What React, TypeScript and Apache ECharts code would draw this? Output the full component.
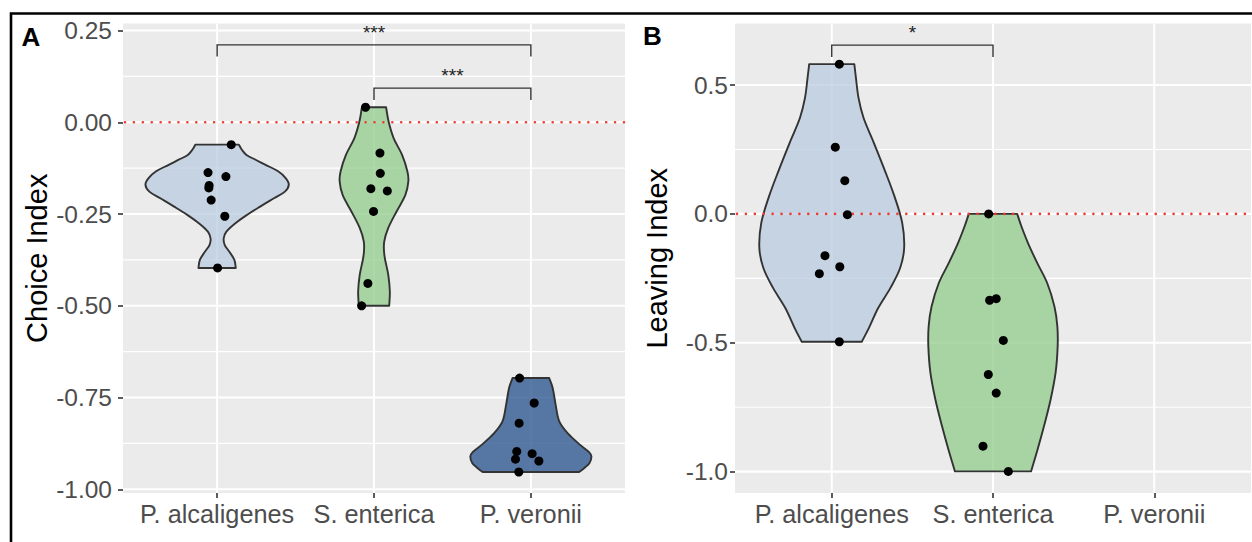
import React, { useEffect, useRef } from 'react';
import * as echarts from 'echarts';

// ---------- shared ----------
const categories = ['P. alcaligenes', 'S. enterica', 'P. veronii'];
const categoryPositions = [0, 1, 2];
const xRange = [-0.6, 2.6];
const zeroLineValue = 0;

// ---------- Panel A : Choice Index ----------
const choiceTicks = [-1.0, -0.75, -0.5, -0.25, 0, 0.25];
const choiceTickLabels = ['-1.00', '-0.75', '-0.50', '-0.25', '0.00', '0.25'];
const choiceMinorTicks = [-0.875, -0.625, -0.375, -0.125, 0.125];
const choiceRange = [-1.0102, 0.2692];

const choiceAlcValues = [-0.061, -0.137, -0.148, -0.172, -0.179, -0.212, -0.256, -0.397];
const choiceAlcJitter = [0.09, -0.058, 0.056, -0.051, -0.053, -0.038, 0.049, 0.003];
const choiceEntValues = [0.041, -0.084, -0.139, -0.181, -0.187, -0.243, -0.439, -0.5];
const choiceEntJitter = [-0.054, 0.038, 0.04, -0.02, 0.085, -0.003, -0.039, -0.079];
const choiceVerValues = [-0.697, -0.765, -0.82, -0.897, -0.903, -0.918, -0.923, -0.953];
const choiceVerJitter = [-0.072, 0.021, -0.075, -0.09, 0.008, -0.098, 0.051, -0.077];

// violin outlines: value levels and half-widths (category units)
const choiceAlcViolinY = [-0.061, -0.075, -0.089, -0.102, -0.116, -0.134, -0.152, -0.17, -0.189, -0.207, -0.229, -0.252, -0.275, -0.298, -0.316, -0.334, -0.352, -0.375, -0.397];
const choiceAlcViolinW = [0.139, 0.158, 0.187, 0.245, 0.309, 0.391, 0.437, 0.457, 0.432, 0.362, 0.277, 0.192, 0.117, 0.059, 0.042, 0.048, 0.077, 0.11, 0.119];
const choiceEntViolinY = [0.041, 0.002, -0.043, -0.089, -0.134, -0.161, -0.198, -0.243, -0.288, -0.325, -0.361, -0.416, -0.461, -0.5];
const choiceEntViolinW = [0.077, 0.093, 0.125, 0.179, 0.213, 0.219, 0.2, 0.144, 0.091, 0.065, 0.066, 0.091, 0.101, 0.097];
const choiceVerViolinY = [-0.697, -0.724, -0.77, -0.815, -0.847, -0.879, -0.899, -0.911, -0.929, -0.942, -0.953];
const choiceVerViolinW = [0.117, 0.139, 0.158, 0.181, 0.234, 0.314, 0.371, 0.386, 0.373, 0.341, 0.307];

const choiceBracketFrom = [0, 1];
const choiceBracketTo = [2, 2];
const choiceBracketY = [0.211, 0.093];
const choiceBracketTipY = [0.179, 0.061];
const choiceBracketLabels = ['***', '***'];

// ---------- Panel B : Leaving Index ----------
const leaveTicks = [-1.0, -0.5, 0, 0.5];
const leaveTickLabels = ['-1.0', '-0.5', '0.0', '0.5'];
const leaveMinorTicks = [-0.75, -0.25, 0.25];
const leaveRange = [-1.0828, 0.7388];

const leaveAlcValues = [0.581, 0.259, 0.129, -0.003, -0.162, -0.205, -0.232, -0.496];
const leaveAlcJitter = [0.047, 0.022, 0.081, 0.097, -0.042, 0.05, -0.077, 0.047];
const leaveEntValues = [0.0, -0.329, -0.335, -0.491, -0.623, -0.695, -0.901, -0.999];
const leaveEntJitter = [-0.027, 0.02, -0.021, 0.064, -0.029, 0.02, -0.062, 0.095];

const leaveAlcViolinY = [0.581, 0.528, 0.45, 0.373, 0.282, 0.172, 0.068, -0.035, -0.132, -0.21, -0.287, -0.365, -0.443, -0.496];
const leaveAlcViolinW = [0.14, 0.15, 0.166, 0.197, 0.257, 0.327, 0.389, 0.437, 0.449, 0.424, 0.364, 0.288, 0.23, 0.186];
const leaveEntViolinY = [0.0, -0.048, -0.113, -0.19, -0.268, -0.359, -0.436, -0.514, -0.617, -0.721, -0.824, -0.915, -0.999];
const leaveEntViolinW = [0.15, 0.176, 0.217, 0.274, 0.336, 0.381, 0.399, 0.401, 0.388, 0.357, 0.316, 0.276, 0.236];

const leaveBracketFrom = [0];
const leaveBracketTo = [1];
const leaveBracketY = [0.655];
const leaveBracketTipY = [0.609];
const leaveBracketLabels = ['*'];

// ---------- styles ----------
const FONT = '"Liberation Sans", Arial, Helvetica, sans-serif';
const violinFills = ['rgba(184,203,223,0.75)', 'rgba(146,204,139,0.75)', 'rgba(40,82,142,0.77)'];
const OUTLINE = '#333333';
const ZERO_RED = '#F03A30';
const TICK_TEXT = '#4D4D4D';
const Y_TICK_FONT = 24.5;
const X_TICK_FONT = 25.3;

type Violin = { cat: number; ys: number[]; ws: number[]; fill: string };

function hGridSeries(gridIndex: number, values: number[], width: number, z: number) {
  return {
    type: 'custom',
    xAxisIndex: gridIndex,
    yAxisIndex: gridIndex,
    z,
    silent: true,
    data: values.map((v) => [0, v]),
    renderItem: (params: any, api: any) => {
      const p1 = api.coord([xRange[0], api.value(1)]);
      const p2 = api.coord([xRange[1], api.value(1)]);
      return {
        type: 'line',
        shape: { x1: p1[0], y1: p1[1], x2: p2[0], y2: p2[1] },
        style: { stroke: '#FFFFFF', lineWidth: width },
      };
    },
  };
}

function vGridSeries(gridIndex: number, range: number[]) {
  return {
    type: 'custom',
    xAxisIndex: gridIndex,
    yAxisIndex: gridIndex,
    z: 1,
    silent: true,
    data: categoryPositions.map((c) => [c, 0]),
    renderItem: (params: any, api: any) => {
      const p1 = api.coord([api.value(0), range[0]]);
      const p2 = api.coord([api.value(0), range[1]]);
      return {
        type: 'line',
        shape: { x1: p1[0], y1: p1[1], x2: p2[0], y2: p2[1] },
        style: { stroke: '#FFFFFF', lineWidth: 2 },
      };
    },
  };
}

function violinSeries(gridIndex: number, violins: Violin[]) {
  return {
    type: 'custom',
    xAxisIndex: gridIndex,
    yAxisIndex: gridIndex,
    z: 2,
    silent: true,
    data: violins.map((v) => [v.cat, v.ys[0]]),
    renderItem: (params: any, api: any) => {
      const v = violins[params.dataIndex];
      const right = v.ys.map((y, k) => api.coord([v.cat + v.ws[k], y]));
      const left = v.ys.map((y, k) => api.coord([v.cat - v.ws[k], y])).reverse();
      const pts = [right[0], ...right, right[right.length - 1], left[0], ...left, left[left.length - 1]];
      return {
        type: 'polygon',
        shape: { points: pts, smooth: 0.35 },
        style: { fill: v.fill, stroke: OUTLINE, lineWidth: 1.9, lineJoin: 'round' },
      };
    },
  };
}

function pointSeries(gridIndex: number, cat: number, values: number[], jitter: number[]) {
  return {
    type: 'scatter',
    xAxisIndex: gridIndex,
    yAxisIndex: gridIndex,
    z: 4,
    silent: true,
    symbol: 'circle',
    symbolSize: 9,
    itemStyle: { color: '#000000', opacity: 1 },
    data: values.map((y, k) => [cat + jitter[k], y]),
  };
}

function zeroLineSeries(gridIndex: number) {
  return {
    type: 'custom',
    xAxisIndex: gridIndex,
    yAxisIndex: gridIndex,
    z: 3,
    silent: true,
    data: [[0, zeroLineValue]],
    renderItem: (params: any, api: any) => {
      const p1 = api.coord([xRange[0], api.value(1)]);
      const p2 = api.coord([xRange[1], api.value(1)]);
      return {
        type: 'line',
        shape: { x1: p1[0] + 2, y1: p1[1], x2: p2[0], y2: p2[1] },
        style: { stroke: ZERO_RED, lineWidth: 2.6, lineDash: [0.01, 8.9], lineCap: 'round' },
      };
    },
  };
}

function bracketSeries(gridIndex: number, from: number[], to: number[], ys: number[], tips: number[], labels: string[]) {
  return {
    type: 'custom',
    xAxisIndex: gridIndex,
    yAxisIndex: gridIndex,
    z: 5,
    silent: true,
    data: from.map((f, i) => [f, ys[i]]),
    renderItem: (params: any, api: any) => {
      const i = params.dataIndex;
      const a = api.coord([from[i], tips[i]]);
      const b = api.coord([from[i], ys[i]]);
      const c = api.coord([to[i], ys[i]]);
      const d = api.coord([to[i], tips[i]]);
      return {
        type: 'group',
        children: [
          {
            type: 'polyline',
            shape: { points: [a, b, c, d] },
            style: { stroke: OUTLINE, lineWidth: 1.4, fill: null },
          },
          {
            type: 'text',
            x: (b[0] + c[0]) / 2,
            y: b[1] - 3,
            style: {
              text: labels[i],
              fontSize: 19,
              fontFamily: FONT,
              fill: '#222222',
              align: 'center',
              verticalAlign: 'bottom',
            },
          },
        ],
      };
    },
  };
}

function yAxisDef(gridIndex: number, range: number[], ticks: number[], labels: string[], name: string, nameGap: number, margin: number) {
  return {
    type: 'value',
    gridIndex,
    min: range[0],
    max: range[1],
    axisLine: { show: false, onZero: false },
    axisTick: { show: true, length: 5, lineStyle: { color: '#333333', width: 1.6 }, customValues: ticks },
    axisLabel: {
      show: true,
      customValues: ticks,
      formatter: (v: number) => {
        const idx = ticks.findIndex((t) => Math.abs(t - v) < 1e-9);
        return idx >= 0 ? labels[idx] : '';
      },
      fontSize: Y_TICK_FONT,
      color: TICK_TEXT,
      fontFamily: FONT,
      margin,
    },
    splitLine: { show: false },
    name,
    nameLocation: 'middle',
    nameGap,
    nameTextStyle: { fontSize: 29, color: '#000000', fontFamily: FONT },
  };
}

function xAxisDef(gridIndex: number) {
  return {
    type: 'value',
    gridIndex,
    min: xRange[0],
    max: xRange[1],
    axisLine: { show: false, onZero: false },
    axisTick: { show: true, length: 5, lineStyle: { color: '#333333', width: 1.6 }, customValues: categoryPositions },
    axisLabel: {
      show: true,
      customValues: categoryPositions,
      formatter: (v: number) => categories[Math.round(v)] ?? '',
      fontSize: X_TICK_FONT,
      color: TICK_TEXT,
      fontFamily: FONT,
      margin: 8,
    },
    splitLine: { show: false },
  };
}

export default function App() {
  const ref = useRef<HTMLDivElement>(null);

  useEffect(() => {
    if (!ref.current) return;
    const chart = echarts.init(ref.current, null, { renderer: 'svg' });

    const choiceViolins: Violin[] = [
      { cat: 0, ys: choiceAlcViolinY, ws: choiceAlcViolinW, fill: violinFills[0] },
      { cat: 1, ys: choiceEntViolinY, ws: choiceEntViolinW, fill: violinFills[1] },
      { cat: 2, ys: choiceVerViolinY, ws: choiceVerViolinW, fill: violinFills[2] },
    ];
    const leaveViolins: Violin[] = [
      { cat: 0, ys: leaveAlcViolinY, ws: leaveAlcViolinW, fill: violinFills[0] },
      { cat: 1, ys: leaveEntViolinY, ws: leaveEntViolinW, fill: violinFills[1] },
    ];

    const option: any = {
      animation: false,
      backgroundColor: '#FFFFFF',
      grid: [
        { left: 123, top: 23.5, width: 502, height: 469.5, show: true, backgroundColor: '#EBEBEB', borderWidth: 0, containLabel: false },
        { left: 735, top: 23.5, width: 516, height: 469.5, show: true, backgroundColor: '#EBEBEB', borderWidth: 0, containLabel: false },
      ],
      xAxis: [xAxisDef(0), xAxisDef(1)],
      yAxis: [
        yAxisDef(0, choiceRange, choiceTicks, choiceTickLabels, 'Choice Index', 72, 11),
        yAxisDef(1, leaveRange, leaveTicks, leaveTickLabels, 'Leaving Index', 64, 7),
      ],
      graphic: [
        {
          type: 'polyline',
          shape: { points: [[11, 542], [11, 13.5], [1252, 13.5]] },
          style: { stroke: '#000000', lineWidth: 2.6, fill: null },
          z: 100,
        },
        {
          type: 'text',
          x: 21.5,
          y: 36.5,
          style: { text: 'A', fontSize: 26, fontWeight: 'bold', fontFamily: FONT, fill: '#000000', align: 'left', verticalAlign: 'middle' },
        },
        {
          type: 'text',
          x: 643,
          y: 36,
          style: { text: 'B', fontSize: 26, fontWeight: 'bold', fontFamily: FONT, fill: '#000000', align: 'left', verticalAlign: 'middle' },
        },
      ],
      series: [
        hGridSeries(0, choiceMinorTicks, 1.1, 1),
        hGridSeries(0, choiceTicks, 2.1, 1),
        vGridSeries(0, choiceRange),
        violinSeries(0, choiceViolins),
        zeroLineSeries(0),
        pointSeries(0, 0, choiceAlcValues, choiceAlcJitter),
        pointSeries(0, 1, choiceEntValues, choiceEntJitter),
        pointSeries(0, 2, choiceVerValues, choiceVerJitter),
        bracketSeries(0, choiceBracketFrom, choiceBracketTo, choiceBracketY, choiceBracketTipY, choiceBracketLabels),
        hGridSeries(1, leaveMinorTicks, 1.1, 1),
        hGridSeries(1, leaveTicks, 2.1, 1),
        vGridSeries(1, leaveRange),
        violinSeries(1, leaveViolins),
        zeroLineSeries(1),
        pointSeries(1, 0, leaveAlcValues, leaveAlcJitter),
        pointSeries(1, 1, leaveEntValues, leaveEntJitter),
        bracketSeries(1, leaveBracketFrom, leaveBracketTo, leaveBracketY, leaveBracketTipY, leaveBracketLabels),
      ],
    };

    chart.setOption(option);
    return () => chart.dispose();
  }, []);

  return (
    <div
      ref={ref}
      style={{ position: 'fixed', left: 0, top: 0, width: '1252px', height: '542px', background: '#FFFFFF' }}
    />
  );
}
